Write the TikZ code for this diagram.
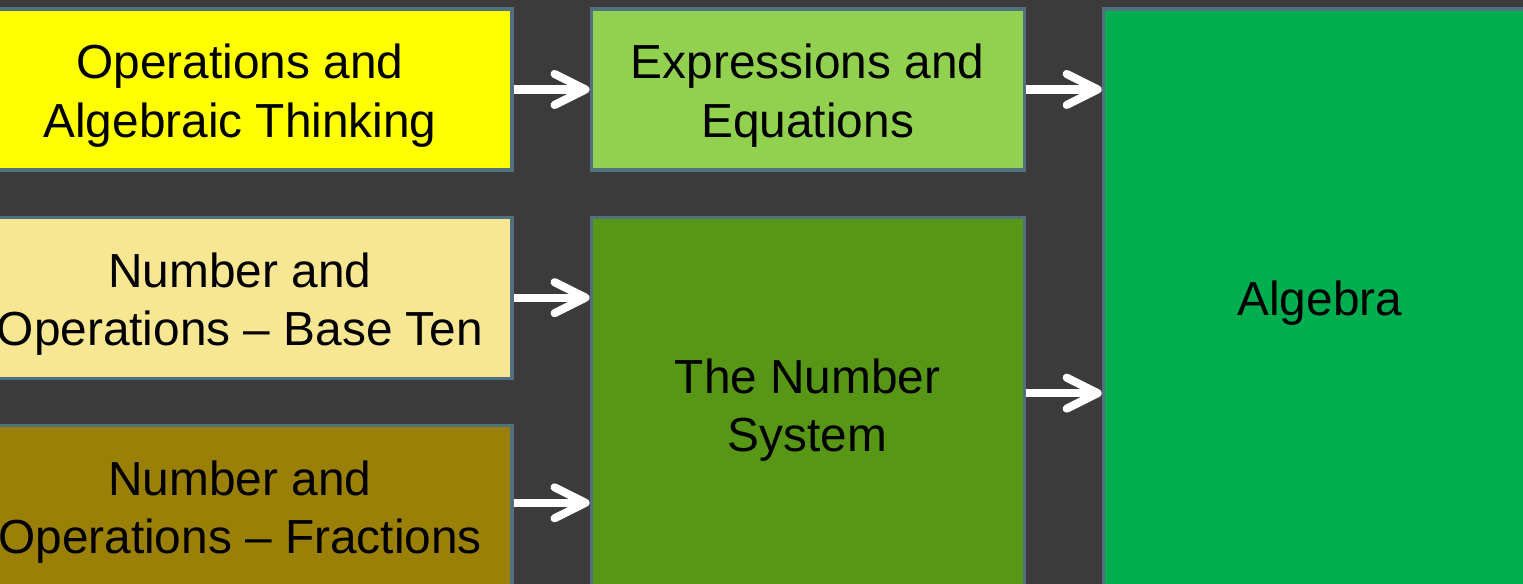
\documentclass[tikz,border=0pt]{standalone}
\usepackage{fontspec}
\setmainfont{Liberation Sans}
\usepackage{tikz}
\usetikzlibrary{arrows.meta,positioning}
\definecolor{slate}{HTML}{3B3B3B}
\definecolor{edgeblue}{HTML}{50717F}
\definecolor{oatyellow}{HTML}{FFFF00}
\definecolor{paleyellow}{HTML}{F8E792}
\definecolor{olive}{HTML}{9A8006}
\definecolor{lightgreen}{HTML}{92D050}
\definecolor{grassgreen}{HTML}{589616}
\definecolor{algebragreen}{HTML}{00AE50}

\begin{document}
\begin{tikzpicture}[font=\fontsize{13.6}{16.6}\selectfont,
  >={Straight Barb[length=3.1mm,width=3.1mm,round]},
  block/.style={draw=edgeblue,line width=0.9pt,align=center,inner sep=0pt,
    minimum width=4.33cm,minimum height=1.61cm},
  twoline/.style={block,execute at begin node={\rule{0pt}{30pt}}},
  flow/.style={->,white,line width=2.3pt}]
  \clip (0,0) rectangle (15.23,-5.84);
  \fill[slate] (0,0) rectangle (15.23,-5.84);
  \node[twoline,fill=oatyellow,minimum width=5.44cm] (oat) at (2.40,-0.895) {Operations and\\Algebraic Thinking};
  \node[twoline,fill=paleyellow,minimum width=5.44cm,below=0.44cm of oat] (nbt) {Number and\\Operations -- Base Ten};
  \node[twoline,fill=olive,minimum width=5.44cm,below=0.44cm of nbt] (nf) {Number and\\Operations -- Fractions};
  \node[twoline,fill=lightgreen,right=0.76cm of oat] (ee) {Expressions and\\Equations};
  \node[twoline,fill=grassgreen,minimum height=3.74cm,below=0.44cm of ee] (ns) {The Number\\System};
  \node[block,fill=algebragreen,minimum height=5.82cm,right=0.76cm of ee.north east,anchor=north west,
    execute at begin node={\rule{0pt}{11.7pt}}] (alg) {Algebra};
  \draw[flow] (oat) -- (ee);
  \draw[flow] (nbt.east) -- (nbt.east -| ns.west);
  \draw[flow] ([yshift=0.03cm]nf.east) -- ([yshift=0.03cm]nf.east -| ns.west);
  \draw[flow] (ee.east) -- (ee.east -| alg.west);
  \draw[flow] ([yshift=0.11cm]ns.east) -- ([yshift=0.11cm]ns.east -| alg.west);
\end{tikzpicture}
\end{document}
